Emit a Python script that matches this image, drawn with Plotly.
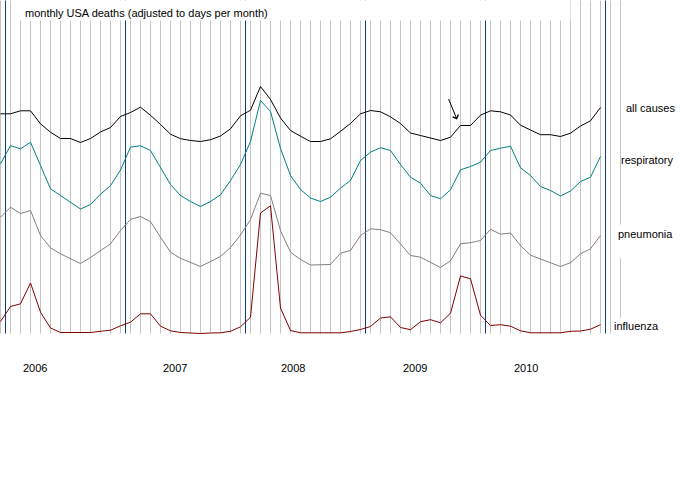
import plotly.graph_objects as go

# month index: 0 = Dec 2005 ... 60 = Dec 2010
month = list(range(61))

# chart units (height above the bottom of the panel)
all_causes = [219.7, 219.7, 222.7, 222.7, 209.7, 201.3, 195, 195, 191, 195,
              201.5, 206, 217, 221, 226.3, 218.2, 209, 199.3, 194.8, 193,
              192, 193.8, 197.5, 204.7, 217.7, 223.3, 247, 234, 215.5, 203,
              197.3, 192, 192, 194.7, 202.2, 210, 219.7, 223, 221.7, 216.7,
              210, 200.5, 198, 195.5, 193, 196.3, 208, 208, 218.3, 222.7,
              221.7, 218.5, 208.3, 203.5, 198.8, 198.8, 197, 200.3, 207.5, 212.7,
              226]
respiratory = [169.7, 187.8, 184.7, 191.3, 168, 144.7, 138, 131.3, 124.5, 129,
               139.3, 147.8, 163.5, 186.3, 187.8, 183, 166.3, 149, 138, 132,
               127, 132, 138.7, 153, 169, 192, 233, 222, 185, 158,
               144, 135.5, 132, 136.3, 145.5, 153, 173, 181.3, 185.8, 183,
               169, 156.3, 150.3, 138, 134.7, 143.7, 163.7, 167, 171.3, 183,
               185.3, 187.3, 165.7, 158, 147, 143, 137.5, 142.5, 152, 156.3,
               177]
pneumonia = [116.3, 126.3, 120, 123, 98, 85.7, 79.7, 74.7, 70, 76,
             82.7, 89.7, 103, 114.2, 117, 111.8, 96.3, 81.3, 75.2, 70.8,
             67, 72, 77, 86, 98.5, 114, 140.3, 138, 103, 81.3,
             74, 68.5, 68.5, 69, 80.3, 83, 98, 104.7, 103.8, 100.8,
             89.5, 78, 76.3, 71.3, 66, 72.7, 89.7, 90.8, 93, 104.2,
             99.3, 100.5, 88, 78.3, 74.7, 71.3, 67, 70.8, 79.7, 84.7,
             98]
influenza = [12, 27, 29.7, 50.5, 21.3, 5.5, 1, 1, 1, 1,
             2.2, 3.3, 7.7, 11.3, 19.7, 19.7, 7.3, 2.7, 1, 0.7,
             0, 0.5, 0.7, 2.2, 6.7, 16.3, 120.5, 127.7, 25.5, 3,
             0.7, 0.7, 0.7, 0.7, 0.7, 2, 4, 7, 15.5, 16.7,
             6, 3.8, 11.8, 13.8, 10.7, 20.3, 57.5, 54.7, 18.3, 8,
             8.8, 7.3, 2.7, 0.7, 0.7, 0.7, 0.7, 2.2, 2.5, 4.3,
             8.8]

names = ["all causes", "respiratory", "pneumonia", "influenza"]
colors = ["black", "#008080", "#808080", "#800000"]
years = ["2006", "2007", "2008", "2009", "2010"]

FONT = "Liberation Sans, Arial, sans-serif"
TOP = 333  # panel height in chart units (= pixels)


def py(p):
    # pixel row -> y value
    return TOP - p


fig = go.Figure()
for name, vals, col in zip(names, [all_causes, respiratory, pneumonia, influenza], colors):
    fig.add_trace(go.Scatter(x=month, y=vals, mode="lines", name=name,
                             line=dict(color=col, width=1), hoverinfo="skip"))

shapes = []
# monthly grid
for i in range(63):
    shapes.append(dict(type="line", x0=i, x1=i, y0=0, y1=TOP, layer="below",
                       line=dict(color="#c4c4c4", width=1)))
# year boundaries
for i in range(0, 61, 12):
    shapes.append(dict(type="line", x0=i + 0.5, x1=i + 0.5, y0=0, y1=TOP, layer="below",
                       line=dict(color="#0a3d86", width=1)))
# white boxes behind title and labels
for x0, x1, y0, y1 in [(1.9, 57, 0, 20), (61.3, 70, 224, 258), (61.3, 70, 317, 345)]:
    shapes.append(dict(type="rect", x0=x0, x1=x1, y0=py(y0), y1=py(y1), layer="below",
                       fillcolor="white", line=dict(width=0)))

ann = [dict(x=2.2, y=py(12), text="monthly USA deaths (adjusted to days per month)",
            xanchor="left")]
for name, xl, yl in zip(names, [62.3, 61.8, 61.5, 61.1], [107, 159, 233, 325]):
    ann.append(dict(x=xl, y=py(yl), text=name, xanchor="left"))
for yr, xl in zip(years, [2.0, 16.0, 27.8, 40.0, 51.1]):
    ann.append(dict(x=xl, y=py(367), text=yr, xanchor="left"))
for a in ann:
    a.update(showarrow=False, yanchor="middle", font=dict(family=FONT, size=11, color="black"))

# the arrow pointing at mid-2009
ann.append(dict(x=45.65, y=py(119), ax=-9, ay=-22, text="", showarrow=True,
                arrowhead=4, arrowsize=1.2, arrowwidth=1, arrowcolor="black"))

fig.update_layout(
    width=700, height=480,
    margin=dict(l=0, r=0, t=0, b=0),
    paper_bgcolor="white", plot_bgcolor="white",
    showlegend=False,
    # half-pixel shift keeps the 1px verticals crisp
    xaxis=dict(range=[-0.05, 69.95], visible=False, showgrid=False, zeroline=False),
    yaxis=dict(range=[TOP - 480 + 0.5, TOP + 0.5], visible=False, showgrid=False, zeroline=False),
    shapes=shapes,
    annotations=ann,
)

fig.write_html("out.html", config={"displayModeBar": False},
               post_script="document.body.style.margin='0px';")
